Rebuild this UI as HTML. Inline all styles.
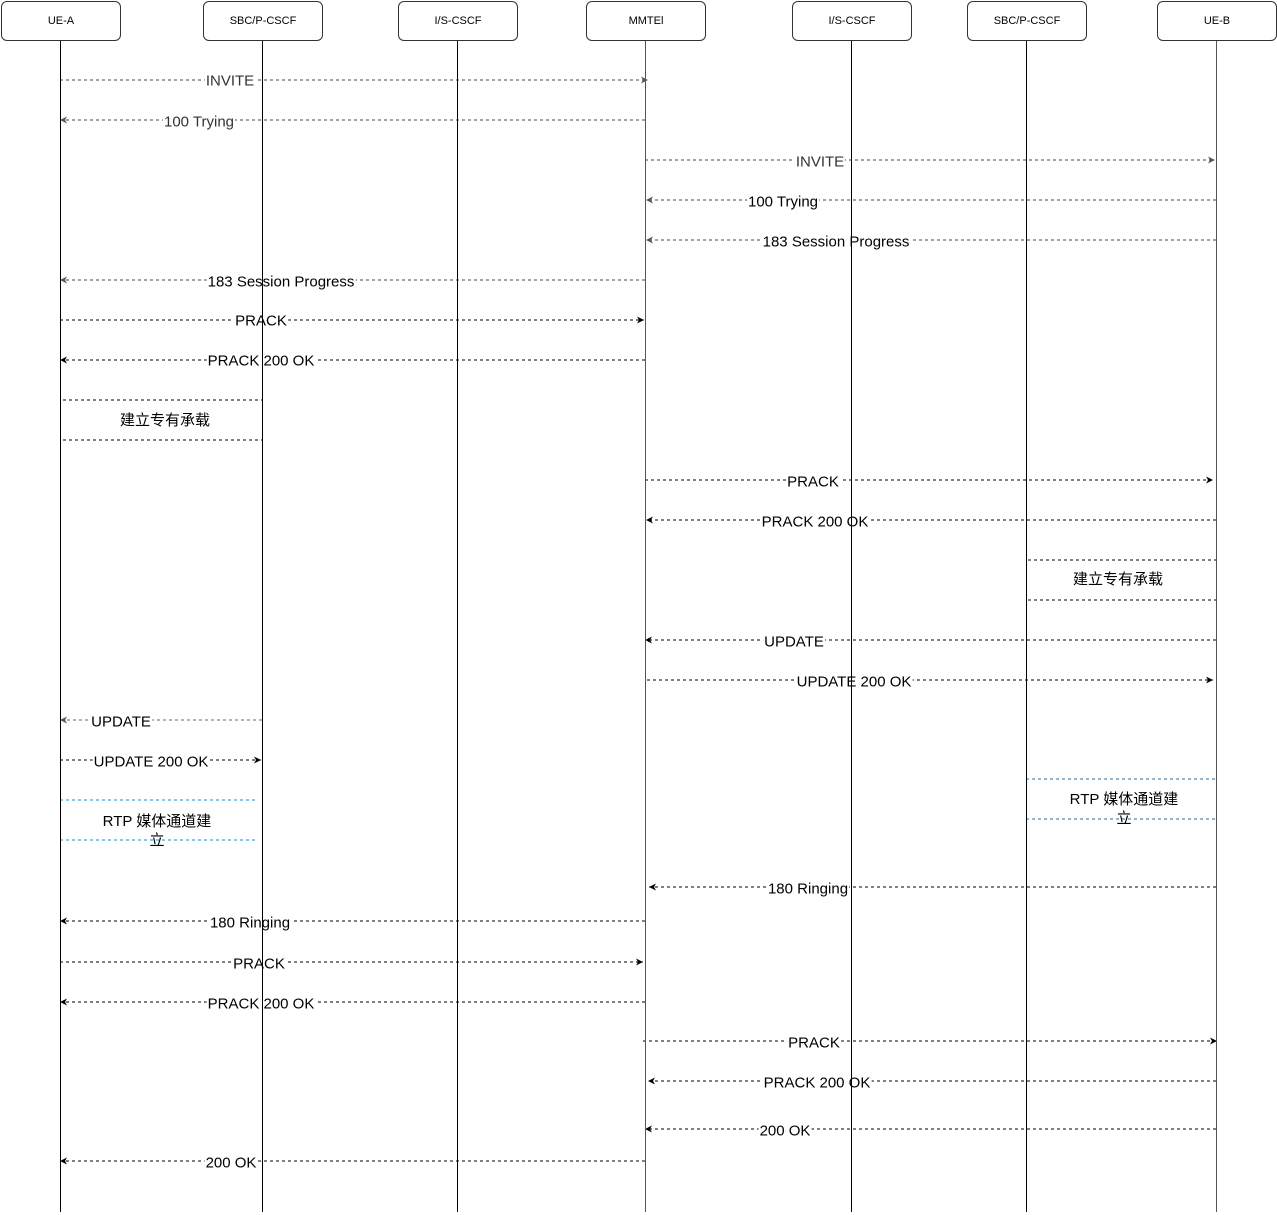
<!DOCTYPE html>
<html><head><meta charset="utf-8"><style>
body{margin:0;width:1277px;height:1215px;background:#fff;position:relative;overflow:hidden;font-family:"Liberation Sans","Noto Sans CJK SC",sans-serif}
svg{position:absolute;left:0;top:0}
.l{position:absolute;transform:translate(-50%,-50%);background:#fff;font-size:15px;line-height:17px;white-space:nowrap;color:#000;padding:0 1px;margin-top:1px}
.g{color:#333}
.t{position:absolute;transform:translate(-50%,-50%);font-size:15px;line-height:20px;text-align:center;white-space:nowrap;margin-top:1px}
.box{position:absolute;top:1px;width:120px;border:1px solid #333;border-radius:6px;background:#fff;font-size:11px;line-height:38px;text-align:center;box-sizing:border-box;height:40px}
</style></head><body>
<svg width="1277" height="1215">
<defs>
<marker id="a" markerWidth="8" markerHeight="8" refX="7" refY="4" orient="auto" markerUnits="userSpaceOnUse"><path d="M0,0.5 L7,4 L0,7.5 L2,4 Z" fill="#000"/></marker>
<marker id="b" markerWidth="8" markerHeight="8" refX="7" refY="4" orient="auto" markerUnits="userSpaceOnUse"><path d="M0,0.5 L7,4 L0,7.5 L2,4 Z" fill="#555"/></marker>
</defs>
<g stroke="#000" stroke-width="1" stroke-dasharray="3,3" fill="none">
<line x1="60" y1="80" x2="648" y2="80" stroke="#444" marker-end="url(#b)"/>
<line x1="645" y1="120" x2="60" y2="120" stroke="#444" marker-end="url(#b)"/>
<line x1="645" y1="160" x2="1215" y2="160" stroke="#444" marker-end="url(#b)"/>
<line x1="1216" y1="200" x2="646" y2="200" stroke="#444" marker-end="url(#b)"/>
<line x1="1216" y1="240" x2="646" y2="240" stroke="#444" marker-end="url(#b)"/>
<line x1="645" y1="280" x2="60" y2="280" stroke="#444" marker-end="url(#b)"/>
<line x1="60" y1="320" x2="644" y2="320" marker-end="url(#a)"/>
<line x1="645" y1="360" x2="60" y2="360" marker-end="url(#a)"/>
<line x1="63" y1="400" x2="263" y2="400"/>
<line x1="63" y1="440" x2="263" y2="440"/>
<line x1="645" y1="480" x2="1213" y2="480" marker-end="url(#a)"/>
<line x1="1216" y1="520" x2="646" y2="520" marker-end="url(#a)"/>
<line x1="1028" y1="560" x2="1216" y2="560"/>
<line x1="1028" y1="600" x2="1216" y2="600"/>
<line x1="1216" y1="640" x2="645" y2="640" marker-end="url(#a)"/>
<line x1="647" y1="680" x2="1213" y2="680" marker-end="url(#a)"/>
<line x1="262" y1="720" x2="60" y2="720" stroke="#666" marker-end="url(#b)"/>
<line x1="60" y1="760" x2="261" y2="760" marker-end="url(#a)"/>
<line x1="60" y1="800" x2="256" y2="800" stroke="#1a8ccc"/>
<line x1="60" y1="840" x2="256" y2="840" stroke="#1a8ccc"/>
<line x1="1026" y1="779" x2="1216" y2="779" stroke="#2a6a9a"/>
<line x1="1026" y1="819" x2="1216" y2="819" stroke="#2a6a9a"/>
<line x1="1216" y1="887" x2="649" y2="887" marker-end="url(#a)"/>
<line x1="645" y1="921" x2="60" y2="921" marker-end="url(#a)"/>
<line x1="60" y1="962" x2="643" y2="962" marker-end="url(#a)"/>
<line x1="645" y1="1002" x2="60" y2="1002" marker-end="url(#a)"/>
<line x1="643" y1="1041" x2="1217" y2="1041" marker-end="url(#a)"/>
<line x1="1216" y1="1081" x2="648" y2="1081" marker-end="url(#a)"/>
<line x1="1216" y1="1129" x2="645" y2="1129" marker-end="url(#a)"/>
<line x1="645" y1="1161" x2="60" y2="1161" marker-end="url(#a)"/>
</g>
</svg>
<span class="l g" style="left:230px;top:80px">INVITE</span>
<span class="l g" style="left:199px;top:121px">100 Trying</span>
<span class="l g" style="left:820px;top:161px">INVITE</span>
<span class="l" style="left:783px;top:201px">100 Trying</span>
<span class="l" style="left:836px;top:241px">183 Session Progress</span>
<span class="l" style="left:281px;top:281px">183 Session Progress</span>
<span class="l" style="left:261px;top:320px">PRACK</span>
<span class="l" style="left:261px;top:360px">PRACK 200 OK</span>
<span class="t" style="left:165px;top:420px">建立专有承载</span>
<span class="l" style="left:813px;top:481px">PRACK</span>
<span class="l" style="left:815px;top:521px">PRACK 200 OK</span>
<span class="t" style="left:1118px;top:579px">建立专有承载</span>
<span class="l" style="left:794px;top:641px">UPDATE</span>
<span class="l" style="left:854px;top:681px">UPDATE 200 OK</span>
<span class="l" style="left:121px;top:721px">UPDATE</span>
<span class="l" style="left:151px;top:761px">UPDATE 200 OK</span>
<span class="t" style="left:157px;top:830px;line-height:19px">RTP 媒体通道建<br>立</span>
<span class="t" style="left:1124px;top:808px;line-height:19px">RTP 媒体通道建<br>立</span>
<span class="l" style="left:808px;top:888px">180 Ringing</span>
<span class="l" style="left:250px;top:922px">180 Ringing</span>
<span class="l" style="left:259px;top:963px">PRACK</span>
<span class="l" style="left:261px;top:1003px">PRACK 200 OK</span>
<span class="l" style="left:814px;top:1042px">PRACK</span>
<span class="l" style="left:817px;top:1082px">PRACK 200 OK</span>
<span class="l" style="left:785px;top:1130px">200 OK</span>
<span class="l" style="left:231px;top:1162px">200 OK</span>
<svg width="1277" height="1215">
<g stroke="#000" stroke-width="1">
<line x1="60.5" y1="40" x2="60.5" y2="1212"/>
<line x1="262.5" y1="40" x2="262.5" y2="1212"/>
<line x1="457.5" y1="40" x2="457.5" y2="1212"/>
<line x1="645.5" y1="40" x2="645.5" y2="1212" stroke="#555"/>
<line x1="851.5" y1="40" x2="851.5" y2="1212"/>
<line x1="1026.5" y1="40" x2="1026.5" y2="1212"/>
<line x1="1216.5" y1="40" x2="1216.5" y2="1212" stroke="#555"/>
</g>
</svg>
<div class="box" style="left:1px">UE-A</div>
<div class="box" style="left:203px">SBC/P-CSCF</div>
<div class="box" style="left:398px">I/S-CSCF</div>
<div class="box" style="left:586px">MMTEl</div>
<div class="box" style="left:792px">I/S-CSCF</div>
<div class="box" style="left:967px">SBC/P-CSCF</div>
<div class="box" style="left:1157px;width:120px">UE-B</div>
</body></html>
